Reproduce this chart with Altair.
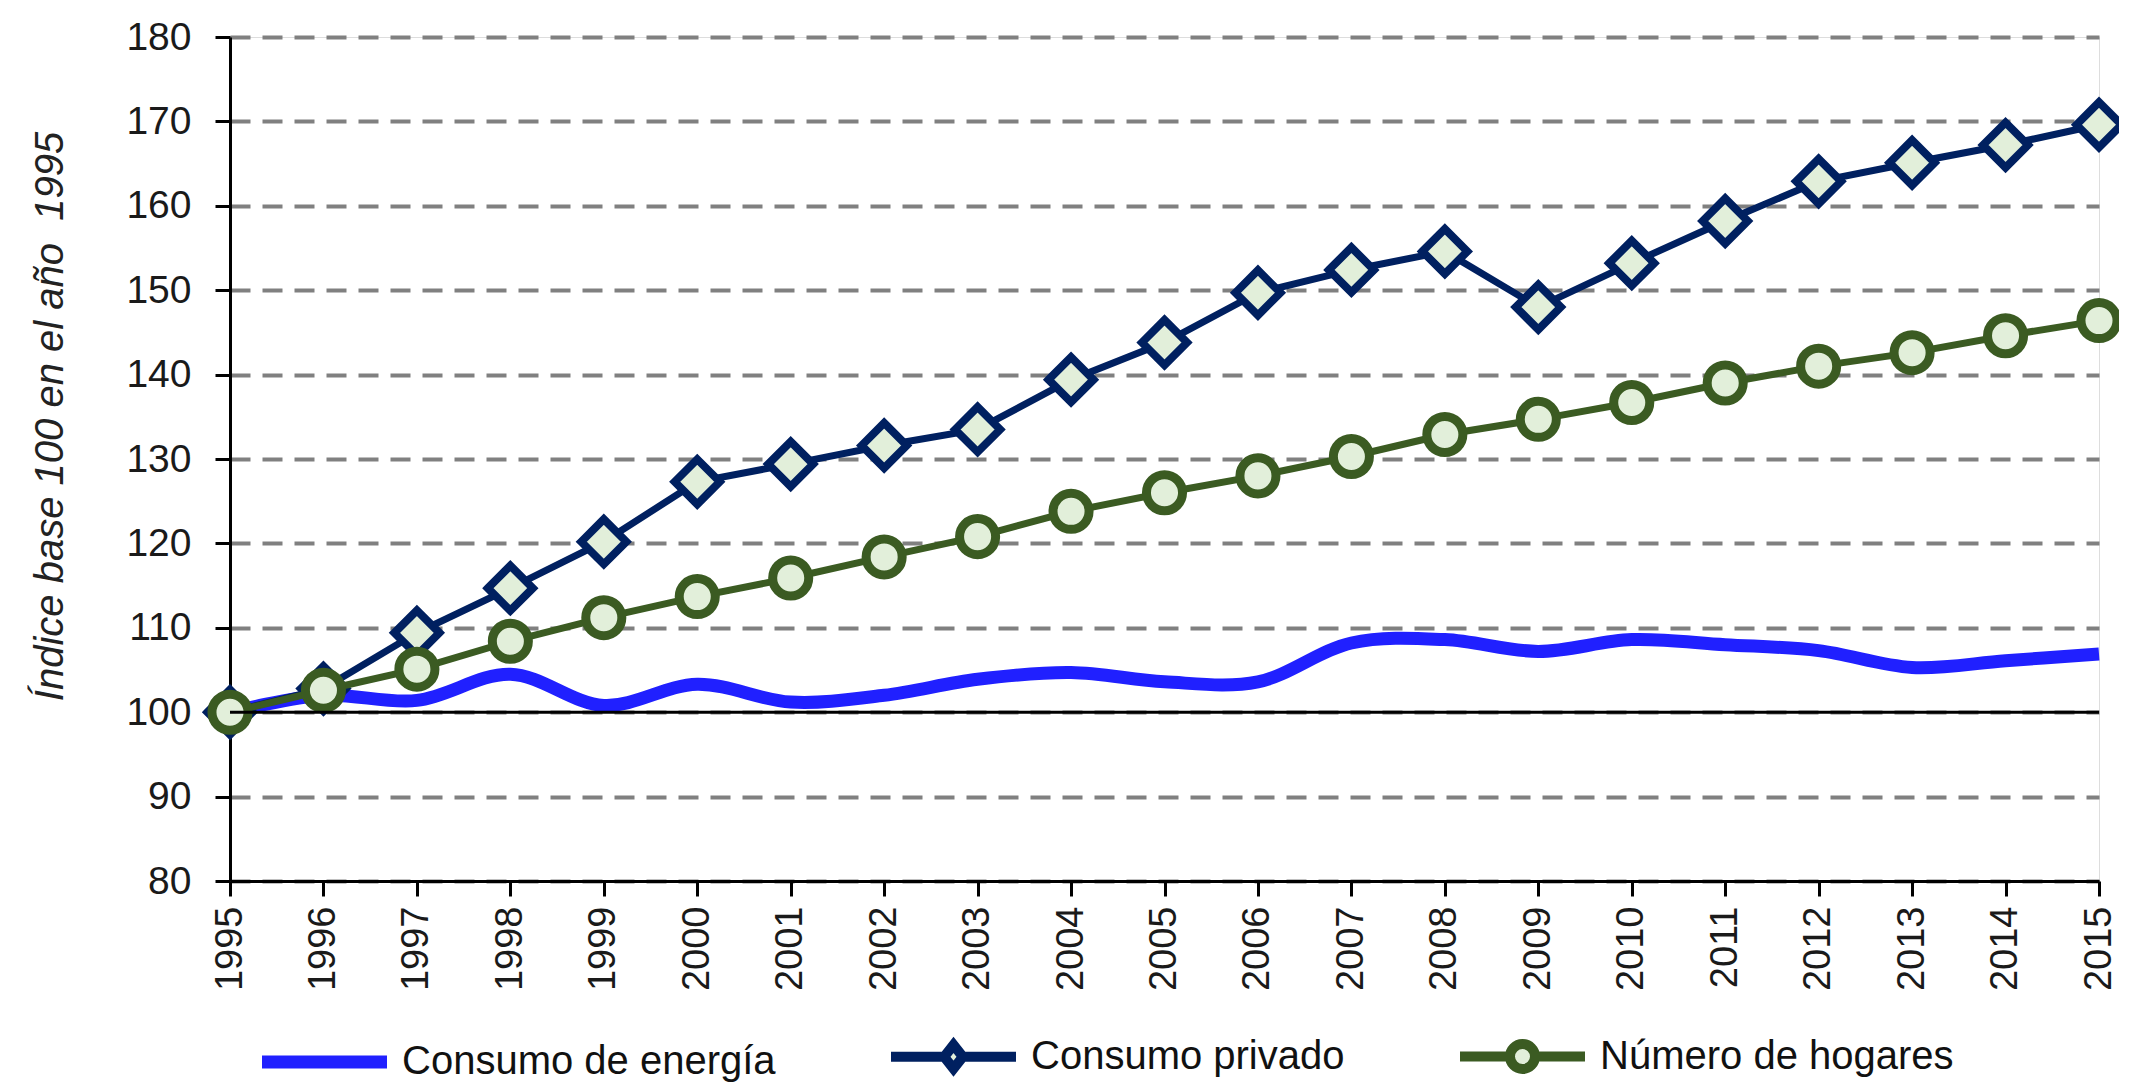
import altair as alt
import pandas as pd

years = list(range(1995, 2016))
energia = [100.0, 102.0, 101.4, 104.5, 100.8, 103.3, 101.2, 102.0, 103.9, 104.7, 103.6, 103.6,
           108.2, 108.6, 107.2, 108.6, 108.0, 107.3, 105.3, 106.1, 106.9]
privado = [100.0, 102.8, 109.4, 114.7, 120.2, 127.3, 129.4, 131.6, 133.5, 139.4, 143.8, 149.7,
           152.4, 154.6, 148.0, 153.2, 158.2, 162.9, 165.1, 167.2, 169.6]
hogares = [100.0, 102.6, 105.1, 108.4, 111.2, 113.7, 115.9, 118.4, 120.8, 123.8, 126.0, 128.0,
           130.3, 132.9, 134.7, 136.7, 139.0, 141.0, 142.6, 144.6, 146.4]

series_names = ["Consumo de energía", "Consumo privado", "Número de hogares"]
series_colors = ["#2020FF", "#002060", "#3B5B22"]
marker_fill = "#E2EFDA"
y_ticks = list(range(80, 181, 10))
y_title = "Índice base 100 en el año\u00a0 1995"

# legend symbols: line + marker drawn in unit box
legend_paths = [
    "M-1,-0.025L1,-0.025M-1,0.025L1,0.025",
    "M-1,0L-0.15,0M0.15,0L1,0M-0.15,0L0,-0.19L0.15,0L0,0.19Z",
    "M-1,0L-0.2,0M0.2,0L1,0M-0.2,0A0.2,0.2,0,1,1,0.2,0A0.2,0.2,0,1,1,-0.2,0Z",
]

df = pd.DataFrame({
    "year": years * 3,
    "value": energia + privado + hogares,
    "serie": [s for s in series_names for _ in years],
})

FONT = "Liberation Sans"

x_enc = alt.X(
    "year:Q",
    scale=alt.Scale(domain=[1995, 2015], nice=False, zero=False),
    axis=alt.Axis(
        values=years, format="d", grid=False, labelAngle=270, labelFlush=False,
        labelOverlap=False, labelBound=False, domainColor="black", domainWidth=3,
        tickColor="black", tickWidth=3, tickSize=15, labelFont=FONT, labelFontSize=38,
        labelColor="#1a1a1a", labelPadding=10, title=None,
    ),
)
y_enc = alt.Y(
    "value:Q",
    scale=alt.Scale(domain=[80, 180], nice=False, zero=False),
    axis=alt.Axis(
        values=y_ticks, grid=True, gridColor="#808080", gridDash=[20, 12], gridWidth=4,
        domainColor="black", domainWidth=3, tickColor="black", tickWidth=3, tickSize=15,
        labelFont=FONT, labelFontSize=39, labelColor="#1a1a1a", labelPadding=24,
        labelOverlap=False, labelFlush=False,
        title=y_title, titleFont=FONT, titleFontSize=40, titleFontStyle="italic",
        titleFontWeight="normal", titleColor="#222222", titleAngle=270,
        titleX=-180, titleY=379, titleAlign="center", titleBaseline="middle",
    ),
)

base = alt.Chart(df).encode(x=x_enc, y=y_enc)

line_energia = base.transform_filter(alt.datum.serie == series_names[0]).mark_line(
    color=series_colors[0], strokeWidth=13, interpolate="catmull-rom")
line_privado = base.transform_filter(alt.datum.serie == series_names[1]).mark_line(
    color=series_colors[1], strokeWidth=7)
pts_privado = base.transform_filter(alt.datum.serie == series_names[1]).mark_point(
    shape="diamond", size=2025, filled=True, fill=marker_fill, stroke=series_colors[1],
    strokeWidth=8, opacity=1)
line_hogares = base.transform_filter(alt.datum.serie == series_names[2]).mark_line(
    color=series_colors[2], strokeWidth=7)
pts_hogares = base.transform_filter(alt.datum.serie == series_names[2]).mark_point(
    shape="circle", size=1300, filled=True, fill=marker_fill, stroke=series_colors[2],
    strokeWidth=9, opacity=1)

rule100 = alt.Chart(pd.DataFrame({"value": [100]})).mark_rule(
    color="black", strokeWidth=3).encode(y=alt.Y("value:Q"))

legend_props = dict(
    title=None, orient="none", legendX=27, legendY=952, direction="horizontal",
    columns=3, columnPadding=95, labelOffset=10, labelFont=FONT, labelFontSize=40,
    labelColor="#111111", labelLimit=1000, symbolSize=15625, padding=0,
    symbolStrokeWidth=10, symbolFillColor=marker_fill, symbolOpacity=1,
)

legend_layer = base.transform_filter("false").mark_point(
    filled=False, fill=marker_fill, strokeWidth=10, opacity=1, size=15625
).encode(
    stroke=alt.Stroke(
        "serie:N",
        scale=alt.Scale(domain=series_names, range=series_colors),
        legend=alt.Legend(**legend_props),
    ),
    shape=alt.Shape(
        "serie:N",
        scale=alt.Scale(domain=series_names, range=legend_paths),
        legend=alt.Legend(**legend_props),
    ),
)

chart = alt.layer(
    line_energia, line_privado, pts_privado, line_hogares, pts_hogares, rule100, legend_layer
).properties(
    width=1869, height=844,
    autosize=alt.AutoSizeParams(type="none"),
    padding={"left": 222, "top": 29, "right": 20, "bottom": 205},
).configure_view(stroke=None).configure(background="white")

chart.save("out.html", embed_options={"renderer": "svg", "actions": False})
